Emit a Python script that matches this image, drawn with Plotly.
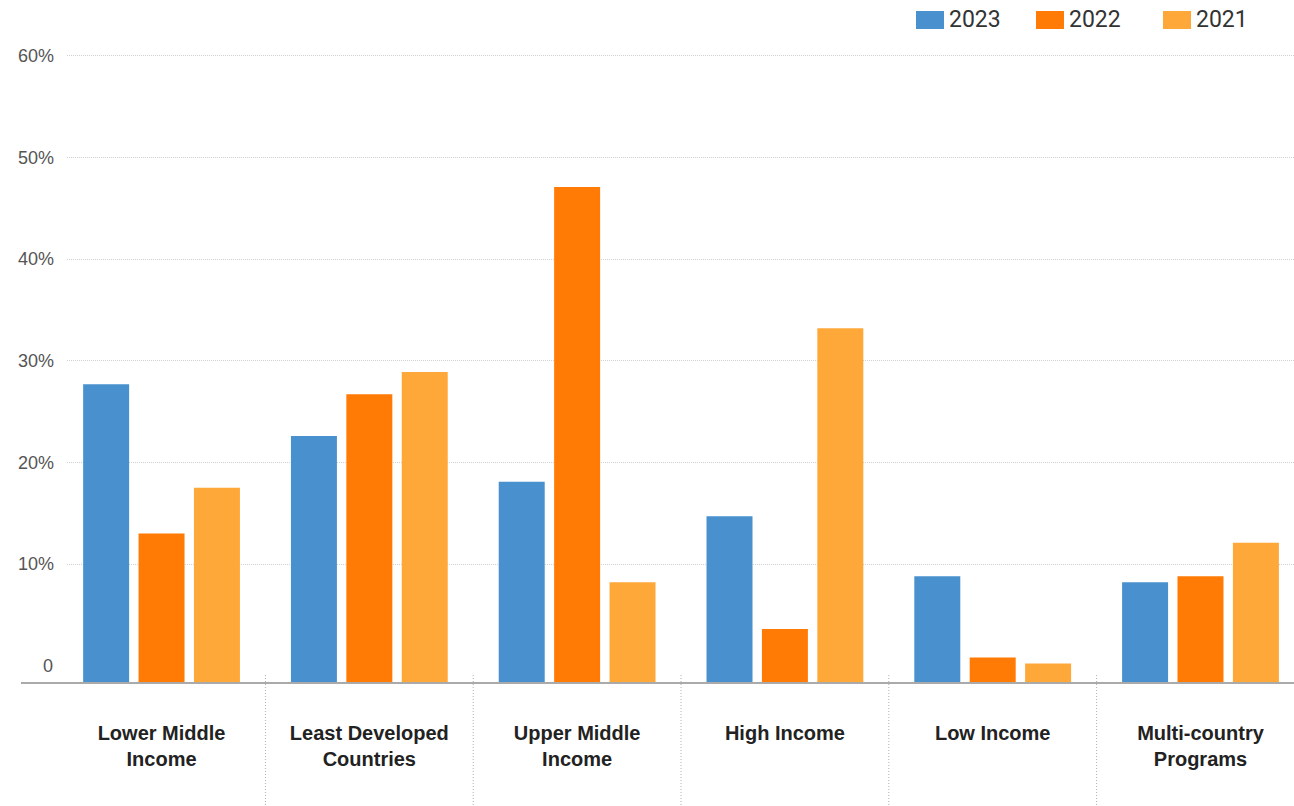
import plotly.graph_objects as go

categories = ["Lower Middle<br>Income", "Least Developed<br>Countries", "Upper Middle<br>Income",
              "High Income", "Low Income", "Multi-country<br>Programs"]
years = ["2023", "2022", "2021"]
values_2023 = [27.7, 22.6, 18.1, 14.7, 8.8, 8.2]
values_2022 = [13.0, 26.7, 47.1, 3.6, 0.8, 8.8]
values_2021 = [17.5, 28.9, 8.2, 33.2, 0.2, 12.1]
colors = ["#4891CE", "#FF7B05", "#FFA83A"]
y_ticks = [10, 20, 30, 40, 50, 60]
y_tick_text = ["10%", "20%", "30%", "40%", "50%", "60%"]

W, H = 1294, 806
ML, MR, MT, MB = 67, 0, 46, 123
PW, PH = W - ML - MR, H - MT - MB
Y_MIN, Y_MAX = -1.71, 60.98

def px_x(px):
    return (px - ML) / PW

def px_y(py):
    return (H - MB - py) / PH

fig = go.Figure()
x_idx = list(range(len(categories)))
for name, vals, col in zip(years, [values_2023, values_2022, values_2021], colors):
    fig.add_trace(go.Bar(
        x=x_idx, y=[v - Y_MIN for v in vals], base=Y_MIN, name=name,
        marker=dict(color=col, line=dict(width=0)), showlegend=False,
        hovertemplate=name + ": %{customdata}%<extra></extra>", customdata=vals,
    ))

fig.update_layout(
    width=W, height=H, autosize=False,
    margin=dict(l=ML, r=MR, t=MT, b=MB),
    paper_bgcolor="white", plot_bgcolor="white",
    barmode="group", bargap=0.2, bargroupgap=0.17,
    font=dict(family="Liberation Sans, Arial", color="#555"),
)
fig.update_xaxes(
    range=[-0.455, 5.45], tickmode="array", tickvals=x_idx, ticktext=categories,
    showgrid=False, zeroline=False, showline=False, ticks="",
    tickfont=dict(size=20, color="#222", family="Liberation Sans, Arial", weight="bold"),
    ticklabelstandoff=36,
)
fig.update_yaxes(
    range=[Y_MIN, Y_MAX], tickmode="array", tickvals=y_ticks, ticktext=y_tick_text,
    showgrid=True, gridcolor="#d0d0d0", griddash="1px,1px", gridwidth=1,
    zeroline=False, showline=False, ticks="", ticklabelstandoff=12,
    tickfont=dict(size=18, color="#555"),
)

# "0" label
fig.add_annotation(x=-0.01, xref="paper", y=0, yref="y", text="0", showarrow=False,
                   xanchor="right", yanchor="middle", font=dict(size=18, color="#555"))

# baseline
fig.add_shape(type="line", xref="paper", yref="paper", x0=px_x(21), x1=1, y0=0, y1=0,
              line=dict(color="#aaaaaa", width=2), layer="above")

# category dividers
for i in range(len(categories) - 1):
    fig.add_shape(type="line", xref="x", yref="paper", x0=i + 0.5, x1=i + 0.5,
                  y0=px_y(675), y1=px_y(806), line=dict(color="#b0b0b0", width=1, dash="1px,2px"))

# custom legend
legend_x = [916, 1036, 1163]
for name, col, lx in zip(years, colors, legend_x):
    fig.add_shape(type="rect", xref="paper", yref="paper",
                  x0=px_x(lx), x1=px_x(lx + 28), y0=px_y(29), y1=px_y(11),
                  fillcolor=col, line=dict(width=0))
    fig.add_annotation(xref="paper", yref="paper", x=px_x(lx + 31), y=px_y(20), text=name,
                       showarrow=False, xanchor="left", yanchor="middle",
                       font=dict(size=23, color="#333", family="Roboto"))

fig.write_html("out.html", config={"displayModeBar": False},
               post_script="document.body.style.margin='0px';")
